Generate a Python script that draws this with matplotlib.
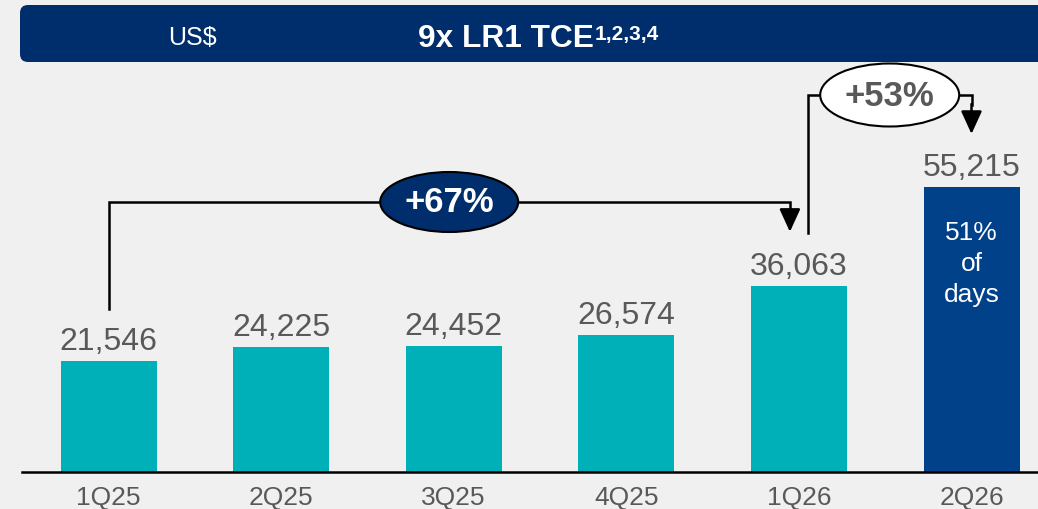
import numpy as np
import matplotlib
matplotlib.use("Agg")
import matplotlib.pyplot as plt
from matplotlib.patches import Ellipse, FancyBboxPatch
from matplotlib.text import Annotation

plt.rcParams['font.family'] = ['Liberation Sans', 'DejaVu Sans']

# data
quarters = ['1Q25', '2Q25', '3Q25', '4Q25', '1Q26', '2Q26']
tce = [21546, 24225, 24452, 26574, 36063, 55215]
bar_colors = ['#00B0B9'] * 5 + ['#00418A']
growth_labels = ['+67%', '+53%']
inner_note = '51%\nof\ndays'
unit_label = 'US$'
title = '9x LR1 TCE'
title_notes = '1,2,3,4'

BG = '#F0F0F0'
NAVY = '#002D6C'
GREY = '#595959'

W, H = 1038, 510
fig = plt.figure(figsize=(W / 100, H / 100), dpi=100, facecolor=BG)
ax = fig.add_axes([0, 0, 1, 1])
ax.set_facecolor(BG)
ax.axis('off')

# pixel layout -> data scale
step_px = 172.6     # distance between bar centres
first_px = 108.5    # centre of first bar
base_px = 473       # baseline, from top
unit_per_px = 193.7
ax.set_xlim(-first_px / step_px, (W - first_px) / step_px)
ax.set_ylim(-(H - base_px) * unit_per_px, base_px * unit_per_px)
dx = 1 / step_px
dy = unit_per_px

x = np.arange(len(quarters))
ax.bar(x, tce, width=96 * dx, color=bar_colors, zorder=2)
ax.plot([22 * dx + ax.get_xlim()[0], ax.get_xlim()[1]], [0, 0], color='black', lw=1.8, zorder=3)

for xi, v, q in zip(x, tce, quarters):
    ax.text(xi, v + 11.5 * dy, f'{v:,}', ha='center', va='baseline', fontsize=23, color=GREY)
    ax.text(xi, -25.5 * dy, q, ha='center', va='center', fontsize=19, color=GREY)

ax.text(x[-1], tce[-1] - 76 * dy, inner_note, ha='center', va='center', fontsize=19,
        color='white', linespacing=1.35)

line_kw = dict(color='black', lw=1.8, solid_joinstyle='miter', zorder=3)
arrow_kw = dict(arrowstyle='-|>,head_length=0.7,head_width=0.32', mutation_scale=20,
                color='black', lw=1.8, shrinkA=0, shrinkB=0)

# +67% bracket
lvl1 = (base_px - 203) * dy
xa = x[4] - 9 * dx
ax.plot([x[0], x[0], xa, xa], [tce[0] + 52 * dy, lvl1, lvl1, lvl1 - 10 * dy], **line_kw)
ax.annotate('', xy=(xa, tce[4] + 54 * dy), xytext=(xa, lvl1 - 9 * dy), arrowprops=arrow_kw)
cx1 = (x[0] + xa) / 2
ax.add_patch(Ellipse((cx1, lvl1), 138 * dx, 60 * dy, fc=NAVY, ec='black', lw=1.5, zorder=4))
ax.text(cx1, lvl1, growth_labels[0], ha='center', va='center', fontsize=25,
        fontweight='bold', color='white', zorder=5)

# +53% bracket
lvl2 = (base_px - 96) * dy
xb = x[4] + 9 * dx
ax.plot([xb, xb, x[5], x[5]], [tce[4] + 53 * dy, lvl2, lvl2, lvl2 - 10 * dy], **line_kw)
ax.annotate('', xy=(x[5], tce[5] + 53 * dy), xytext=(x[5], lvl2 - 9 * dy), arrowprops=arrow_kw)
cx2 = (xb + x[5]) / 2
ax.add_patch(Ellipse((cx2, lvl2), 139 * dx, 63 * dy, fc='white', ec='black', lw=1.5, zorder=4))
ax.text(cx2, lvl2, growth_labels[1], ha='center', va='center', fontsize=25,
        fontweight='bold', color=GREY, zorder=5)

# header band
hdr = FancyBboxPatch((0.20, (H - 63) / 100), 10.5, 0.57,
                     boxstyle='round,pad=0,rounding_size=0.08',
                     transform=fig.dpi_scale_trans, fc=NAVY, ec='none')
fig.patches.append(hdr)
fig.text(192 / W, 1 - 38 / H, unit_label, ha='center', va='center', color='white', fontsize=18)
t = fig.text(418 / W, 1 - 47 / H, title, ha='left', va='baseline', color='white',
             fontsize=22.8, fontweight='bold')
fig.add_artist(Annotation(title_notes, xy=(1, 1), xycoords=t, xytext=(0.8, -0.5),
                          textcoords='offset points', ha='left', va='top', color='white',
                          fontsize=15, fontweight='bold'))

fig.savefig('out.png', dpi=100, facecolor=BG)
